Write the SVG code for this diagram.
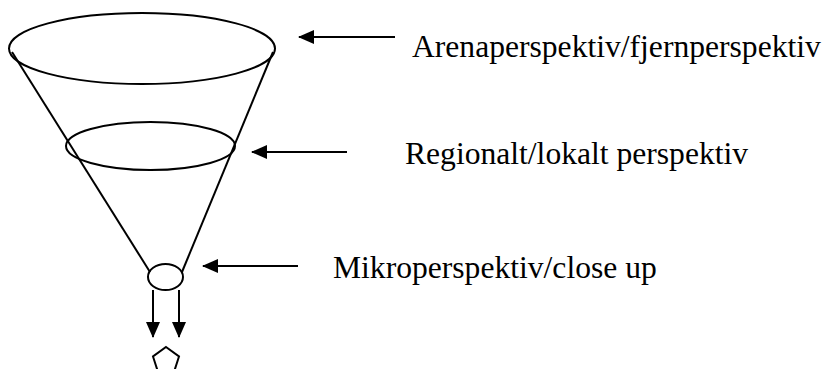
<svg xmlns="http://www.w3.org/2000/svg" width="829" height="369" viewBox="0 0 829 369">
<style>
.s{fill:none;stroke:#000;stroke-width:2}
.t{font-family:"Liberation Serif","Times New Roman",serif;font-size:31.6px;fill:#000}
</style>
<defs>
<marker id="ah" markerUnits="userSpaceOnUse" markerWidth="16" markerHeight="16" viewBox="0 0 16 16" refX="15" refY="8" orient="auto">
<path d="M0,1 L16,8 L0,15 Z" fill="#000"/>
</marker>
</defs>
<rect width="829" height="369" fill="#fff"/>
<g id="funnel">
<ellipse class="s" cx="142" cy="48.5" rx="133" ry="35.5"/>
<line class="s" x1="12" y1="52" x2="150" y2="272"/>
<line class="s" x1="273" y1="52" x2="182" y2="272"/>
<ellipse class="s" cx="150.5" cy="146" rx="84.5" ry="24"/>
<ellipse class="s" cx="165.5" cy="277" rx="17.5" ry="13"/>
</g>
<g id="output">
<polygon class="s" points="166,347 179,356.5 174,372 158,372 153,356.5"/>
</g>
<g id="connectors">
<line class="s" x1="153" y1="290" x2="153" y2="337" marker-end="url(#ah)"/>
<line class="s" x1="179" y1="290" x2="179" y2="337" marker-end="url(#ah)"/>
<line class="s" x1="395" y1="37" x2="299" y2="37" marker-end="url(#ah)"/>
<line class="s" x1="347" y1="152" x2="252" y2="152" marker-end="url(#ah)"/>
<line class="s" x1="298" y1="266" x2="203" y2="266" marker-end="url(#ah)"/>
</g>
<g id="label1"><text class="t" x="412" y="57">Arenaperspektiv/fjernperspektiv</text></g>
<g id="label2"><text class="t" x="405" y="164">Regionalt/lokalt perspektiv</text></g>
<g id="label3"><text class="t" x="333" y="278">Mikroperspektiv/close up</text></g>
</svg>
